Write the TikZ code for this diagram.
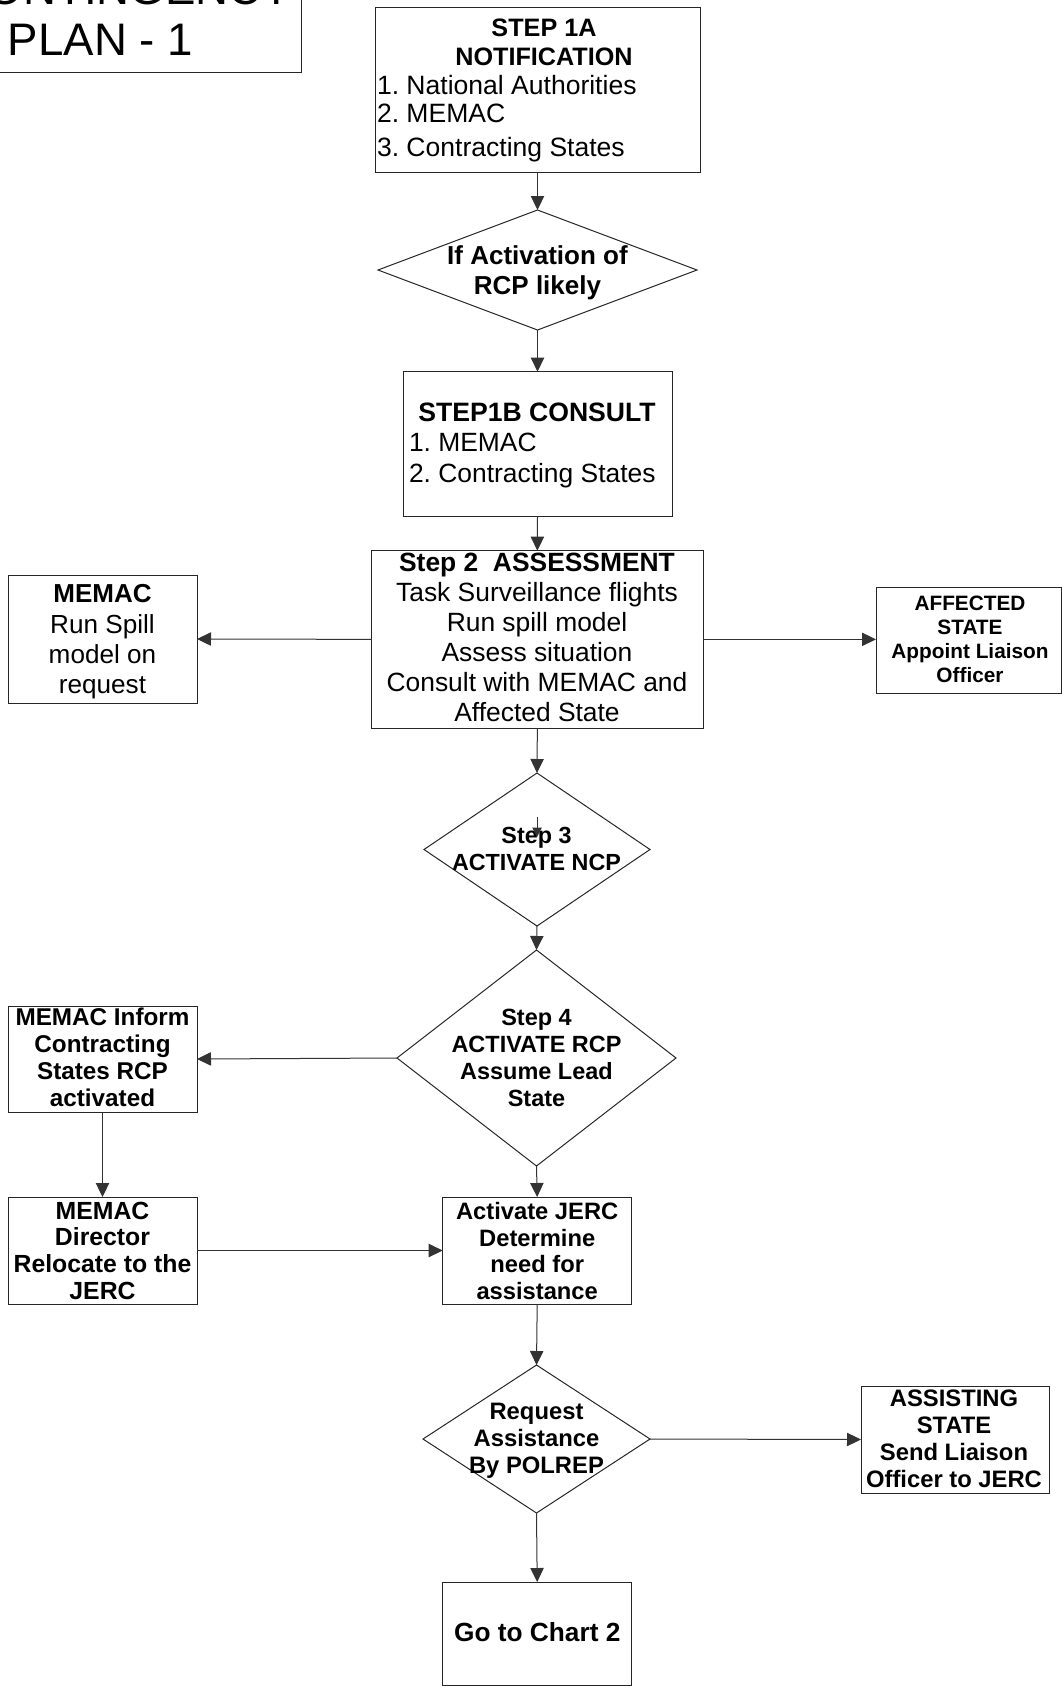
\documentclass[tikz,border=0pt]{standalone}
\usepackage{fontspec}
\setmainfont{Liberation Sans}
\usetikzlibrary{arrows.meta,shapes.geometric}
\newcommand\fsz[2]{\fontsize{#1}{#2}\selectfont}
\frenchspacing
\begin{document}
\begin{tikzpicture}[x=0.75pt,y=-0.75pt,
  box/.style={draw=black!85, line width=0.75pt, inner sep=0pt, outer sep=0pt, rectangle},
  pbox/.style 2 args={box, minimum width={#1*0.75pt}, minimum height={#2*0.75pt}},
  dia/.style 2 args={draw=black!85, line width=0.75pt, inner sep=0pt, outer sep=0pt, diamond,
     minimum width={#1*0.75pt}, minimum height={#2*0.75pt}},
  conn/.style={draw=black!80, line width=0.75pt, -{Triangle[width=10pt,length=10.5pt]}},
  smallconn/.style={draw=black!80, line width=0.75pt, -{Triangle[width=7pt,length=7pt]}},
  txt/.style={inner sep=0pt, outer sep=0pt, anchor=base},
  txtl/.style={inner sep=0pt, outer sep=0pt, anchor=base west},
]
\useasboundingbox (0,0) rectangle (1062,1686);

% ---- title box (partly off the page)
\node[pbox={341}{122}] (title) at (130.5,11) {};
\node[txt] (titleA) at (123.5,4) {\fsz{34.2pt}{38pt}CONTINGENCY};
\node[txt] (titleB) at (100.5,55) {\fsz{34.2pt}{38pt}PLAN - 1};

% ---- Step 1A
\node[pbox={325}{165}] (s1a) at (537.5,89.5) {};
\node[txt] (s1ah) at (544,36) {\fsz{18.9pt}{21.75pt}\bfseries\begin{tabular}[t]{@{}c@{}}STEP 1A\\NOTIFICATION\end{tabular}};
\node[txtl] (s1al) at (377,94.5) {\fsz{19.9pt}{21pt}\begin{tabular}[t]{@{}l@{}}1. National Authorities\\2. MEMAC\\[4.5pt]3. Contracting States\end{tabular}};

% ---- decision 1
\node[dia={319}{120}] (d1) at (537.5,270) {};
\node[txt] (d1t) at (537.5,264) {\fsz{19.5pt}{22.5pt}\bfseries\begin{tabular}[t]{@{}c@{}}If Activation of\\RCP likely\end{tabular}};

% ---- Step 1B
\node[pbox={269}{145}] (s1b) at (537.5,444.2) {};
\node[txt] (s1bh) at (537,421.7) {\fsz{19.95pt}{22pt}\bfseries STEP1B CONSULT};
\node[txtl] (s1bl) at (409,451.7) {\fsz{19.8pt}{23pt}\begin{tabular}[t]{@{}l@{}}1. MEMAC\\2. Contracting States\end{tabular}};

% ---- Step 2
\node[pbox={331.3}{177.3}] (s2) at (537.35,639.35) {};
\node[txt] (s2h) at (537,571.7) {\fsz{19.8pt}{22.5pt}\bfseries Step 2\ \ ASSESSMENT};
\node[txt] (s2l) at (537,601.7) {\fsz{19.8pt}{22.5pt}\begin{tabular}[t]{@{}c@{}}Task Surveillance flights\\Run spill model\\Assess situation\\Consult with MEMAC and\\Affected State\end{tabular}};

% ---- MEMAC (spill model)
\node[pbox={189}{128}] (memac) at (102.5,639) {};
\node[txt] (memach) at (102.5,602.5) {\fsz{19.5pt}{22.5pt}\bfseries MEMAC};
\node[txt] (memacl) at (102.5,633) {\fsz{19.6pt}{22.5pt}\begin{tabular}[t]{@{}c@{}}Run Spill\\model on\\request\end{tabular}};

% ---- Affected state
\node[pbox={185}{106}] (aff) at (968.5,640) {};
\node[txt] (afft) at (970,610.5) {\fsz{15.6pt}{18pt}\bfseries\begin{tabular}[t]{@{}c@{}}AFFECTED\\STATE\\Appoint Liaison\\Officer\end{tabular}};

% ---- Step 3
\node[dia={226}{153}] (d3) at (537,849.5) {};
\node[txt] (d3t) at (536.5,843.4) {\fsz{17.5pt}{20pt}\bfseries\begin{tabular}[t]{@{}c@{}}Step 3\\ACTIVATE NCP\end{tabular}};
\coordinate (s3a) at (537,817);
\coordinate (s3b) at (537,837);

% ---- Step 4
\node[dia={279}{216}] (d4) at (536.5,1058) {};
\node[txt] (d4t) at (536.5,1025.4) {\fsz{17.6pt}{20.25pt}\bfseries\begin{tabular}[t]{@{}c@{}}Step 4\\ACTIVATE RCP\\Assume Lead\\State\end{tabular}};

% ---- MEMAC inform
\node[pbox={189}{106}] (inform) at (102.5,1059) {};
\node[txt] (informt) at (102.5,1025.7) {\fsz{18.2pt}{20.25pt}\bfseries\begin{tabular}[t]{@{}c@{}}MEMAC Inform\\Contracting\\States RCP\\activated\end{tabular}};

% ---- MEMAC director
\node[pbox={189}{107}] (dir) at (102.5,1250.5) {};
\node[txt] (dirt) at (102.5,1219) {\fsz{18.6pt}{20.1pt}\bfseries\begin{tabular}[t]{@{}c@{}}MEMAC\\Director\\Relocate to the\\JERC\end{tabular}};

% ---- JERC
\node[pbox={189}{107}] (jerc) at (537.2,1250.5) {};
\node[txt] (jerct) at (537.2,1219.5) {\fsz{17.8pt}{20pt}\bfseries\begin{tabular}[t]{@{}c@{}}Activate JERC\\Determine\\need for\\assistance\end{tabular}};

% ---- Request assistance
\node[dia={227}{148}] (dr) at (536.5,1439) {};
\node[txt] (drt) at (536.5,1419.5) {\fsz{17.85pt}{20.25pt}\bfseries\begin{tabular}[t]{@{}c@{}}Request\\Assistance\\By POLREP\end{tabular}};

% ---- Assisting state
\node[pbox={188.6}{107}] (assist) at (955.3,1439.5) {};
\node[txt] (assistt) at (954,1406.5) {\fsz{17.85pt}{20.25pt}\bfseries\begin{tabular}[t]{@{}c@{}}ASSISTING\\STATE\\Send Liaison\\Officer to JERC\end{tabular}};

% ---- Go to chart 2
\node[pbox={189}{103}] (chart) at (537.2,1633.5) {};
\node[txt] (chartt) at (537.3,1641.7) {\fsz{19.7pt}{22pt}\bfseries Go to Chart 2};

% ---- connectors
\draw[conn] (s1a.south) -- (d1.north);
\draw[conn] (d1.south) -- (s1b.north);
\draw[conn] (s1b.south) -- (s2.north);
\draw[conn] (s2.west) -- (memac.east);
\draw[conn] (s2.east) -- (aff.west |- s2.east);
\draw[conn] (s2.south) -- (d3.north);
\draw[smallconn] (s3a) -- (s3b);
\draw[conn] (d3.south) -- (d4.north);
\draw[conn] (d4.west) -- (inform.east);
\draw[conn] (inform.south) -- (dir.north);
\draw[conn] (d4.south) -- (jerc.north);
\draw[conn] (dir.east) -- (jerc.west);
\draw[conn] (jerc.south) -- (dr.north);
\draw[conn] (dr.east) -- (assist.west);
\draw[conn] (dr.south) -- (chart.north);
\end{tikzpicture}
\end{document}
